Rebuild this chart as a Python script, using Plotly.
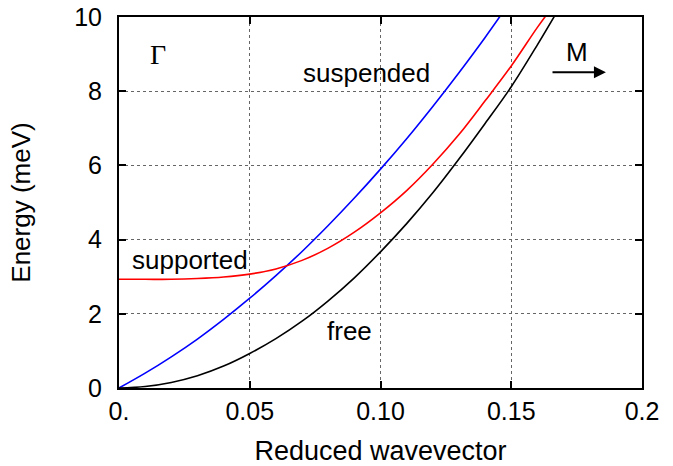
import plotly.graph_objects as go

# Reduced wavevector sample points
q_free = [0, 0.01, 0.02, 0.03, 0.04, 0.05, 0.06, 0.07, 0.08, 0.09, 0.10, 0.11, 0.12, 0.13, 0.14, 0.15, 0.16, 0.168]
e_free = [0, 0.04, 0.15, 0.33, 0.59, 0.93, 1.33, 1.80, 2.35, 2.97, 3.67, 4.43, 5.26, 6.17, 7.13, 8.12, 9.25, 10.2]

q_susp = [0, 0.01, 0.02, 0.03, 0.04, 0.05, 0.06, 0.07, 0.08, 0.09, 0.10, 0.11, 0.12, 0.13, 0.14, 0.147]
e_susp = [0, 0.40, 0.84, 1.32, 1.85, 2.42, 3.03, 3.68, 4.38, 5.12, 5.90, 6.72, 7.59, 8.50, 9.45, 10.15]

q_supp = [0, 0.01, 0.02, 0.03, 0.04, 0.05, 0.06, 0.07, 0.08, 0.09, 0.10, 0.11, 0.12, 0.13, 0.14, 0.15, 0.16, 0.165]
e_supp = [2.93, 2.93, 2.93, 2.95, 2.99, 3.07, 3.21, 3.44, 3.77, 4.20, 4.72, 5.32, 6.03, 6.83, 7.74, 8.68, 9.72, 10.2]

x_ticks = [0, 0.05, 0.10, 0.15, 0.2]
x_tick_labels = ["0.", "0.05", "0.10", "0.15", "0.2"]
y_ticks = [0, 2, 4, 6, 8, 10]

FONT = "Liberation Sans, Arial, Helvetica, sans-serif"

fig = go.Figure()
fig.add_trace(go.Scatter(x=q_susp, y=e_susp, mode="lines", line=dict(color="#0000ff", width=1.6, shape="spline"), showlegend=False))
fig.add_trace(go.Scatter(x=q_supp, y=e_supp, mode="lines", line=dict(color="#ff0000", width=1.6, shape="spline"), showlegend=False))
fig.add_trace(go.Scatter(x=q_free, y=e_free, mode="lines", line=dict(color="#000000", width=1.6, shape="spline"), showlegend=False))

axis_common = dict(
    showline=True, linecolor="black", linewidth=2, mirror="ticks",
    ticks="inside", ticklen=7, tickwidth=1.5, tickcolor="black",
    showgrid=True, gridcolor="#666666", griddash="dot", gridwidth=1,
    zeroline=False, tickfont=dict(family=FONT, size=25, color="black"),
    automargin=False, ticklabeloverflow="allow",
)

fig.update_xaxes(range=[0, 0.2], tickvals=x_ticks, ticktext=x_tick_labels,
                 title=dict(text="Reduced wavevector", font=dict(family=FONT, size=27, color="black"), standoff=19),
                 ticklabelstandoff=0, **axis_common)
fig.update_yaxes(range=[0, 10], tickvals=y_ticks,
                 title=dict(text="Energy (meV)", font=dict(family=FONT, size=26, color="black"), standoff=36),
                 ticklabelstandoff=10, **axis_common)

ann_font = dict(family=FONT, size=26, color="black")
fig.add_annotation(x=0.0148, y=9.0, text="Γ", showarrow=False, font=dict(family="Liberation Serif, Times New Roman, serif", size=28, color="black"))
fig.add_annotation(x=0.0948, y=8.5, text="suspended", showarrow=False, font=ann_font)
fig.add_annotation(x=0.0271, y=3.45, text="supported", showarrow=False, font=ann_font)
fig.add_annotation(x=0.0883, y=1.53, text="free", showarrow=False, font=ann_font)
fig.add_annotation(x=0.1751, y=9.05, text="M", showarrow=False, font=ann_font)
fig.add_annotation(x=0.1862, y=8.51, ax=0.1652, ay=8.51, xref="x", yref="y", axref="x", ayref="y",
                   text="", showarrow=True, arrowhead=2, arrowsize=1.2, arrowwidth=2, arrowcolor="black")

fig.update_layout(
    width=673, height=466,
    margin=dict(l=119, r=31, t=17, b=78),
    paper_bgcolor="white", plot_bgcolor="white",
    font=dict(family=FONT, color="black"),
)

# remove the default page margin so the figure fills the window exactly
fig.write_html("out.html", config={"displayModeBar": False},
               post_script="document.body.style.margin='0';")
